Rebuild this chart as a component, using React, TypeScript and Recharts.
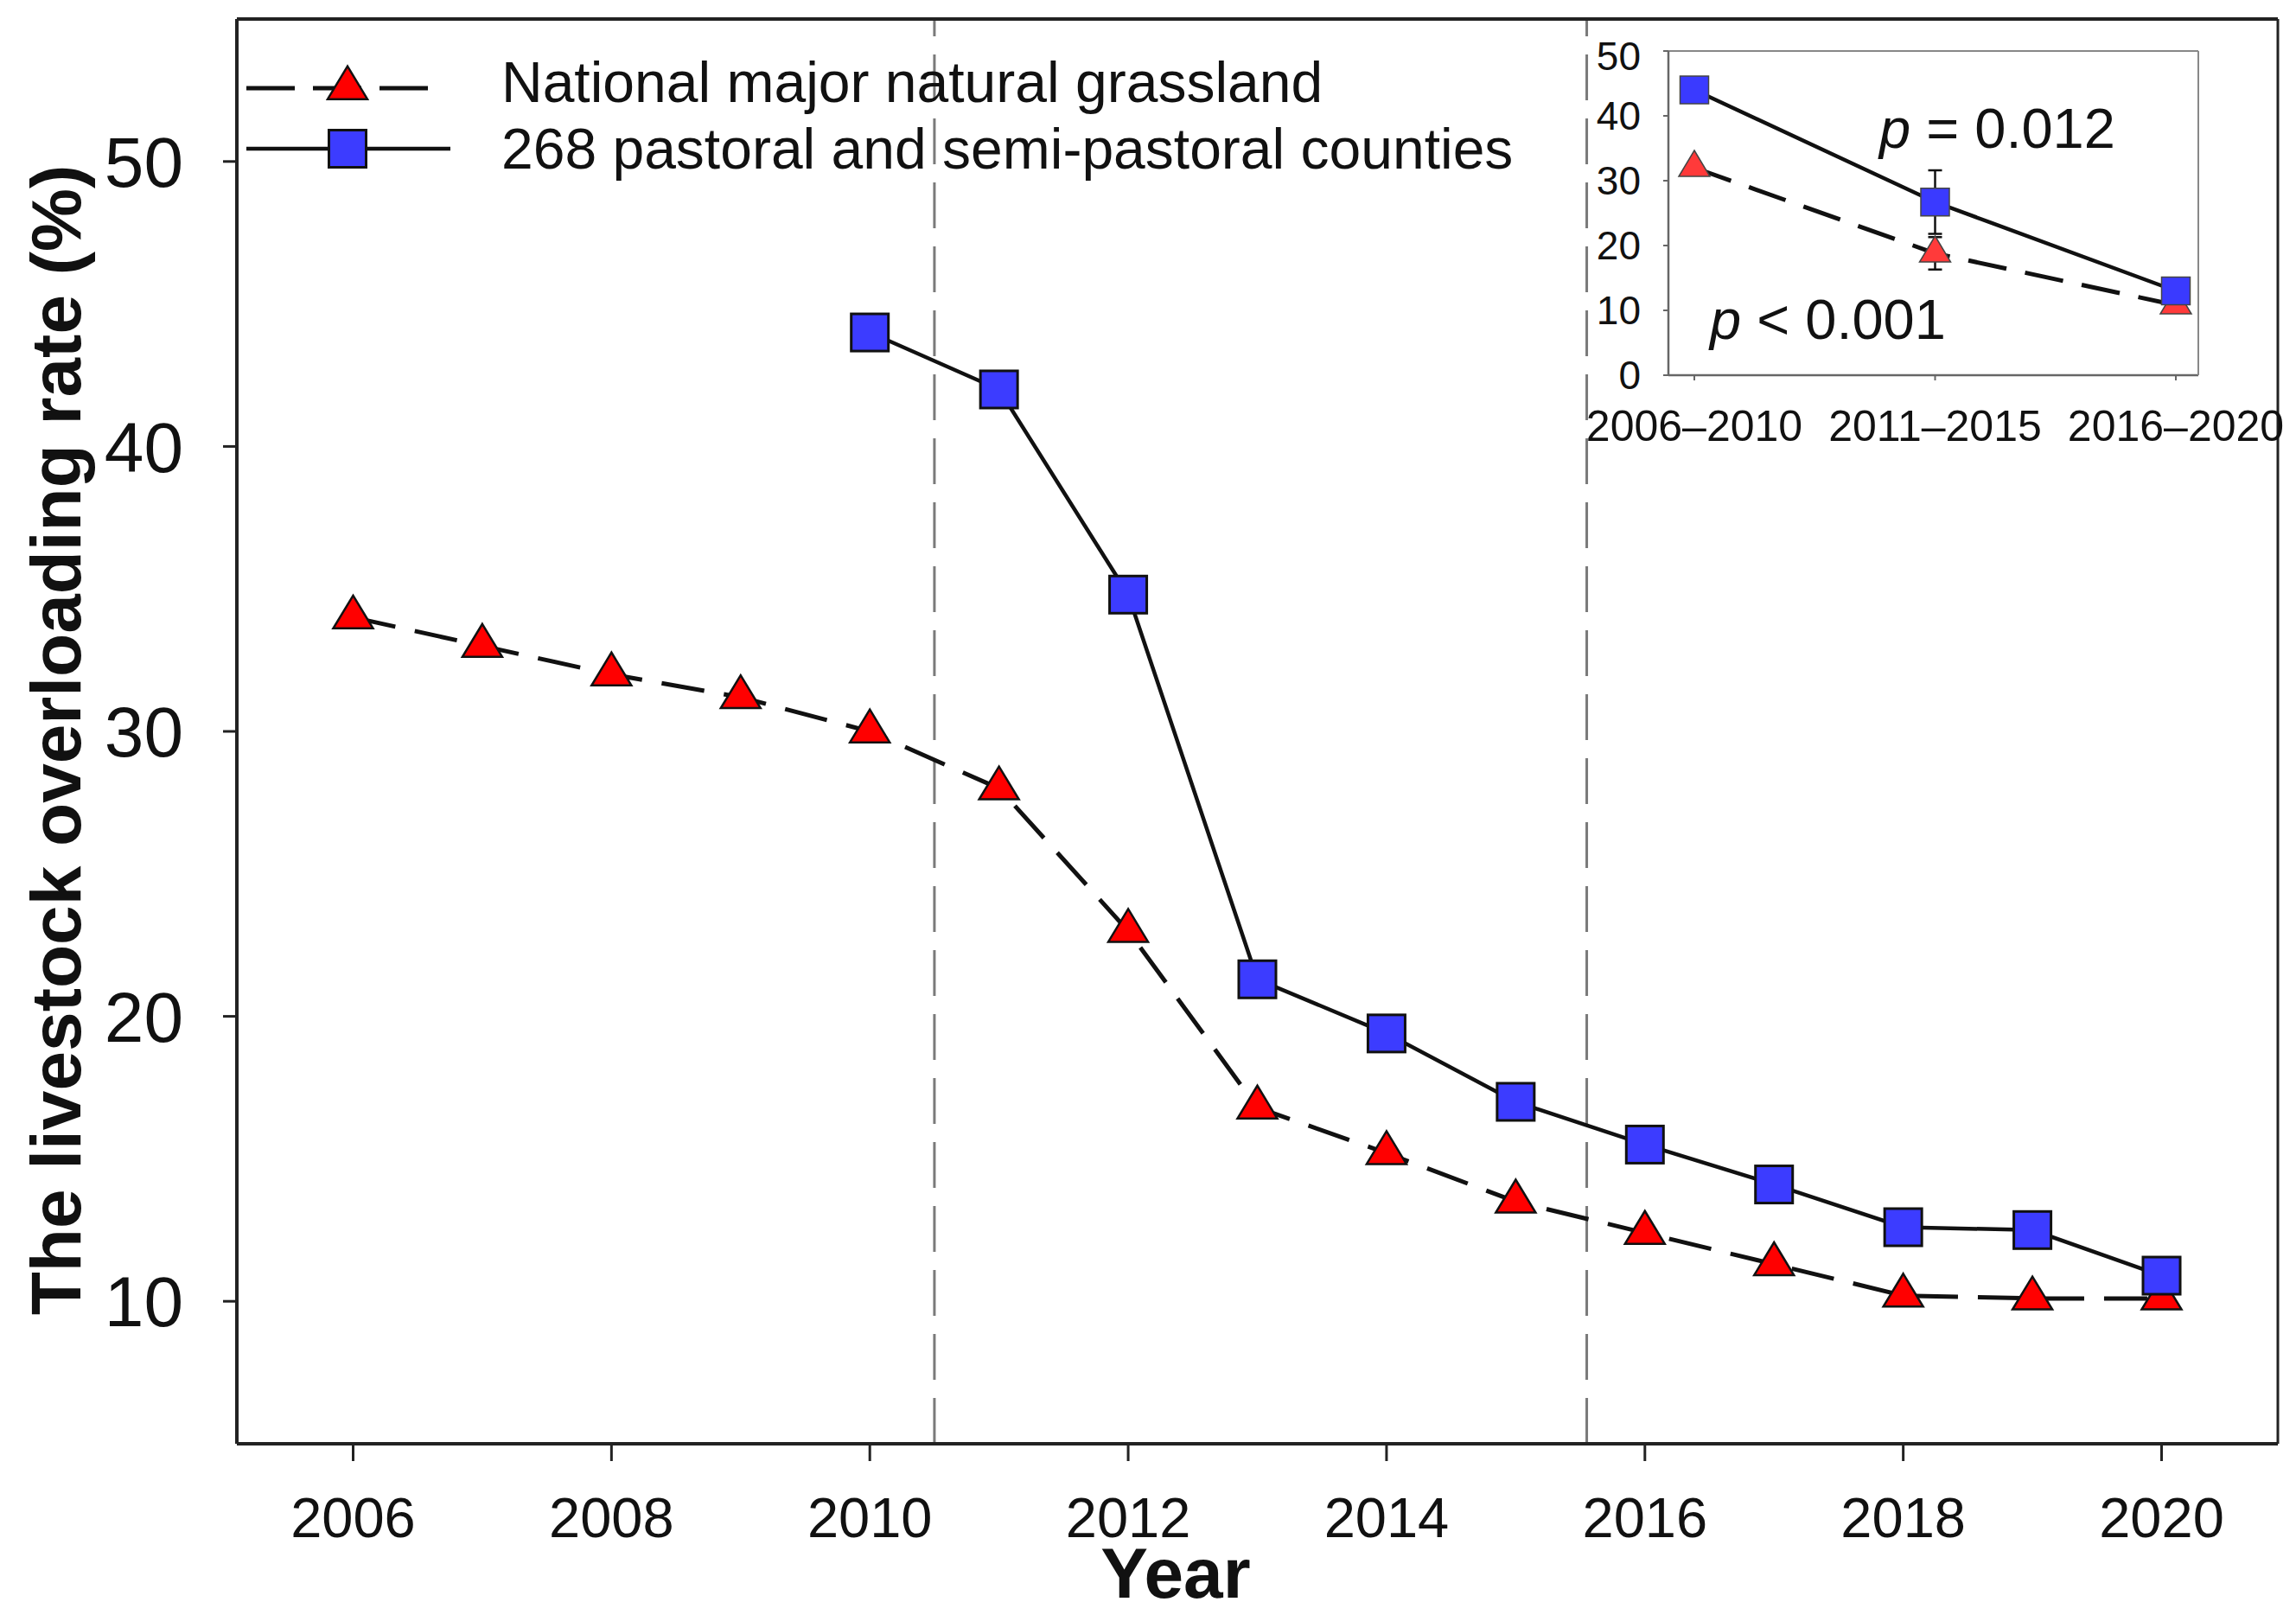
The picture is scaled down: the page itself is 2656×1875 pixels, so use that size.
import React from 'react';
import {
  LineChart, Line, XAxis, YAxis, ReferenceLine, Legend, ErrorBar, Customized,
} from 'recharts';

const FONT = '"Liberation Sans", Arial, Helvetica, sans-serif';

// main panel: yearly livestock overloading rate (%)
const years = [2006, 2007, 2008, 2009, 2010, 2011, 2012, 2013, 2014, 2015, 2016, 2017, 2018, 2019, 2020];
const nationalRate = [34.0, 33.0, 32.0, 31.2, 30.0, 28.0, 23.0, 16.8, 15.2, 13.5, 12.4, 11.3, 10.2, 10.1, 10.1];
const countyYears = [2010, 2011, 2012, 2013, 2014, 2015, 2016, 2017, 2018, 2019, 2020];
const countyRate = [44.0, 42.0, 34.8, 21.3, 19.4, 17.0, 15.5, 14.1, 12.6, 12.5, 10.9];
const yearTicks = [2006, 2008, 2010, 2012, 2014, 2016, 2018, 2020];
const rateTicks = [10, 20, 30, 40, 50];
const periodBreaks = [2010.5, 2015.55];

// inset: five-year means
const periods = ['2006–2010', '2011–2015', '2016–2020'];
const periodNational = [32.0, 18.8, 10.8];
const periodNationalSd = [0.8, 2.5, 0.6];
const periodCounty = [44.0, 26.7, 13.0];
const periodCountySd = [1.0, 4.9, 0.8];
const insetTicks = [0, 10, 20, 30, 40, 50];

const SERIES_NATIONAL = 'National major natural grassland';
const SERIES_COUNTY = '268 pastoral and semi-pastoral counties';
const seriesOrder = [SERIES_NATIONAL, SERIES_COUNTY];

const nationalData = years.map((year, i) => ({ year, rate: nationalRate[i] }));
const countyData = countyYears.map((year, i) => ({ year, rate: countyRate[i] }));
const insetData = periods.map((period, i) => ({
  period,
  national: periodNational[i],
  nationalSd: periodNationalSd[i],
  county: periodCounty[i],
  countySd: periodCountySd[i],
}));

const triPath = (cx: number, cy: number, w: number, h: number) =>
  `M${cx},${cy - (2 * h) / 3} L${cx + w / 2},${cy + h / 3} L${cx - w / 2},${cy + h / 3} Z`;

const mainTriangle = (props: any) => {
  const { cx, cy, index } = props;
  if (cx == null || cy == null) return <g key={`mt-${index}`} />;
  return (
    <path key={`mt-${index}`} d={triPath(cx, cy, 46, 38)} fill="#ff0000" stroke="#111" strokeWidth={2.5} />
  );
};

const mainSquare = (props: any) => {
  const { cx, cy, index } = props;
  if (cx == null || cy == null) return <g key={`ms-${index}`} />;
  return (
    <rect key={`ms-${index}`} x={cx - 21.5} y={cy - 21.5} width={43} height={43} fill="#3c3cff" stroke="#111" strokeWidth={3} />
  );
};

const insetTriangle = (props: any) => {
  const { cx, cy, index } = props;
  return (
    <path key={`it-${index}`} d={triPath(cx, cy, 36, 30)} fill="#ff3a3a" stroke="#444" strokeWidth={1.5} />
  );
};

const insetSquare = (props: any) => {
  const { cx, cy, index } = props;
  return (
    <rect key={`is-${index}`} x={cx - 16.5} y={cy - 16} width={33} height={32} fill="#3a3aff" stroke="#444" strokeWidth={1.5} />
  );
};

// legend rows (svg coords inside the chart wrapper)
const legendLineY = [94, 164];
const legendTextY = [110, 187];

function LegendContent({ payload }: any) {
  const items = [...(payload || [])].sort(
    (a: any, b: any) => seriesOrder.indexOf(a.value) - seriesOrder.indexOf(b.value),
  );
  return (
    <svg width={2000} height={220} style={{ display: 'block' }}>
      {items.map((entry: any, i: number) => {
        const y = legendLineY[i];
        const dashed = entry.value === SERIES_NATIONAL;
        return (
          <g key={entry.value}>
            <line
              x1={277} x2={dashed ? 490 : 513} y1={y} y2={y}
              stroke="#111" strokeWidth={dashed ? 5 : 4.5}
              strokeDasharray={dashed ? '56 21' : undefined}
            />
            {dashed ? (
              <path d={triPath(394, y, 46, 38)} fill="#ff0000" stroke="#111" strokeWidth={2.5} />
            ) : (
              <rect x={372.5} y={y - 21.5} width={43} height={43} fill="#3c3cff" stroke="#111" strokeWidth={3} />
            )}
            <text x={572} y={legendTextY[i]} fontSize={66} fontFamily={FONT} fill="#111">
              {entry.value}
            </text>
          </g>
        );
      })}
    </svg>
  );
}

const yTitle = (props: any) => {
  const vb = props.viewBox || { x: 0, y: 0, width: 0, height: 0 };
  const x = vb.x + 85;
  const y = vb.y + vb.height / 2 + 10;
  return (
    <text
      x={x} y={y} transform={`rotate(-90, ${x}, ${y})`} textAnchor="middle"
      fontSize={82} fontWeight="bold" fontFamily={FONT} fill="#111"
    >
      The livestock overloading rate (%)
    </text>
  );
};

const xTitle = (props: any) => {
  const vb = props.viewBox || { x: 0, y: 0, width: 0, height: 0 };
  return (
    <text
      x={vb.x + 1086} y={vb.y + 178} textAnchor="middle"
      fontSize={82} fontWeight="bold" fontFamily={FONT} fill="#111"
    >
      Year
    </text>
  );
};

const PValues = () => (
  <g fontFamily={FONT} fontSize={65} fill="#111">
    <text x={386} y={133}>
      <tspan fontStyle="italic">p</tspan> = 0.012
    </text>
    <text x={190} y={354}>
      <tspan fontStyle="italic">p</tspan> &lt; 0.001
    </text>
  </g>
);

function Inset() {
  return (
    <LineChart width={860} height={500} data={insetData} margin={{ top: 20, right: 104, left: 0, bottom: 0 }}>
      <XAxis
        dataKey="period" type="category" height={104} padding={{ left: 30, right: 26 }}
        tickSize={6} tickMargin={34}
        tick={{ fontSize: 50, fill: '#111', fontFamily: FONT }}
        axisLine={{ stroke: '#666', strokeWidth: 2.5 }} tickLine={{ stroke: '#666', strokeWidth: 2 }}
      />
      <XAxis xAxisId="top" orientation="top" dataKey="period" type="category" height={1}
        padding={{ left: 30, right: 26 }} tick={false} tickLine={false}
        axisLine={{ stroke: '#888', strokeWidth: 2 }} />
      <YAxis
        domain={[0, 50]} ticks={insetTicks} width={142} tickSize={6} tickMargin={26} allowDataOverflow
        tick={{ fontSize: 46, fill: '#111', fontFamily: FONT }}
        axisLine={{ stroke: '#666', strokeWidth: 2.5 }} tickLine={{ stroke: '#666', strokeWidth: 2 }}
      />
      <YAxis yAxisId="right" orientation="right" domain={[0, 50]} ticks={insetTicks} allowDataOverflow
        width={1} tick={false} tickLine={false} axisLine={{ stroke: '#888', strokeWidth: 2 }} />
      <Line
        dataKey="national" type="linear" stroke="#111" strokeWidth={5} strokeDasharray="45 22"
        dot={insetTriangle} activeDot={false} isAnimationActive={false}
      >
        <ErrorBar dataKey="nationalSd" width={8} stroke="#111" strokeWidth={2.5} direction="y" isAnimationActive={false} />
      </Line>
      <Line
        dataKey="county" type="linear" stroke="#111" strokeWidth={4.5}
        dot={insetSquare} activeDot={false} isAnimationActive={false}
      >
        <ErrorBar dataKey="countySd" width={8} stroke="#111" strokeWidth={2.5} direction="y" isAnimationActive={false} />
      </Line>
      <Customized component={PValues} />
    </LineChart>
  );
}

export default function App() {
  return (
    <div style={{ position: 'relative', width: 2640, height: 1859, background: '#fff', fontFamily: FONT }}>
      <LineChart width={2640} height={1859} data={nationalData} margin={{ top: 13, right: 12, left: 0, bottom: 0 }}>
        <XAxis
          dataKey="year" type="number" domain={[2005.1, 2020.9]} ticks={yearTicks} allowDataOverflow
          height={197} tickSize={20} tickMargin={42}
          tick={{ fontSize: 65, fill: '#111', fontFamily: FONT }}
          axisLine={{ stroke: '#222', strokeWidth: 4 }} tickLine={{ stroke: '#222', strokeWidth: 3 }}
          label={xTitle}
        />
        <XAxis xAxisId="top" orientation="top" type="number" domain={[2005.1, 2020.9]} ticks={yearTicks}
          allowDataOverflow height={1} tick={false} tickLine={false} axisLine={{ stroke: '#222', strokeWidth: 4 }} />
        <YAxis
          domain={[5, 55]} ticks={rateTicks} allowDataOverflow width={266} tickSize={16} tickMargin={46}
          tick={{ fontSize: 82, fill: '#111', fontFamily: FONT }}
          axisLine={{ stroke: '#222', strokeWidth: 4 }} tickLine={{ stroke: '#222', strokeWidth: 3 }}
          label={yTitle}
        />
        <YAxis yAxisId="right" orientation="right" domain={[5, 55]} ticks={rateTicks} allowDataOverflow width={1}
          tick={false} tickLine={false} axisLine={{ stroke: '#222', strokeWidth: 3 }} />
        {periodBreaks.map((x) => (
          <ReferenceLine key={x} x={x} stroke="#7a7a7a" strokeWidth={3} strokeDasharray="53 21" />
        ))}
        <Line
          name={SERIES_NATIONAL} dataKey="rate" type="linear" stroke="#111" strokeWidth={5}
          strokeDasharray="50 23" dot={mainTriangle} activeDot={false} isAnimationActive={false}
        />
        <Line
          name={SERIES_COUNTY} data={countyData} dataKey="rate" type="linear" stroke="#111" strokeWidth={4.5}
          dot={mainSquare} activeDot={false} isAnimationActive={false}
        />
        <Legend
          layout="vertical" align="center" verticalAlign="middle" content={LegendContent}
          wrapperStyle={{ position: 'absolute', top: 0, left: 0, width: 2000, height: 220 }}
        />
      </LineChart>
      <div style={{ position: 'absolute', left: 1780, top: 30 }}>
        <Inset />
      </div>
    </div>
  );
}
